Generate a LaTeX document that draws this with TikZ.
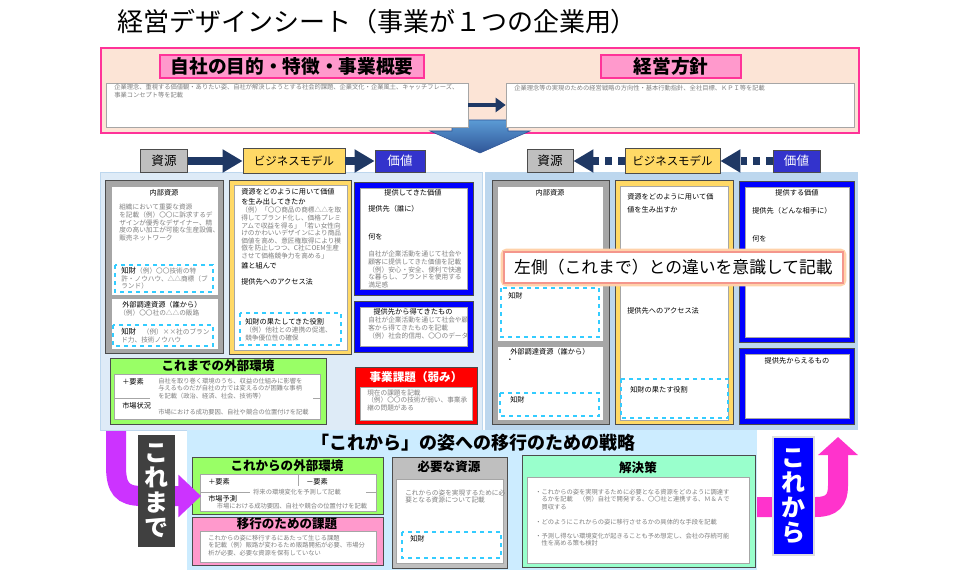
\documentclass[tikz,border=0pt]{standalone}
\usepackage{fontspec}
\setmainfont{Noto Sans CJK JP}
\usetikzlibrary{arrows.meta, positioning, calc}
\definecolor{Peach}{RGB}{252,228,214}
\definecolor{MagLine}{RGB}{255,51,153}
\definecolor{HeadPink}{RGB}{255,153,204}
\definecolor{Navy}{RGB}{31,56,100}
\definecolor{TagGray}{RGB}{191,191,191}
\definecolor{TagYellow}{RGB}{255,217,102}
\definecolor{TagBlue}{RGB}{51,51,204}
\definecolor{PanelL}{RGB}{222,235,247}
\definecolor{PanelR}{RGB}{189,215,238}
\definecolor{FrameGray}{RGB}{166,166,166}
\definecolor{ValBlue}{RGB}{0,0,255}
\definecolor{IPCyan}{RGB}{51,204,255}
\definecolor{EnvGreen}{RGB}{153,255,102}
\definecolor{IssueRed}{RGB}{255,0,0}
\definecolor{NextPanel}{RGB}{204,236,255}
\definecolor{SolveAqua}{RGB}{153,255,204}
\definecolor{PastPurple}{RGB}{204,51,255}
\definecolor{FutureMagenta}{RGB}{255,51,204}
\definecolor{PastDark}{RGB}{64,64,64}
\definecolor{MemoGray}{RGB}{128,128,128}
\definecolor{ArrowTop}{RGB}{91,155,213}
\definecolor{ArrowBot}{RGB}{47,85,151}
\definecolor{Glow}{RGB}{255,210,170}
\definecolor{CalloutLine}{RGB}{244,150,140}

\begin{document}
\begin{tikzpicture}[x=0.75pt, y=-0.75pt,
    headbox/.style={draw=MagLine, fill=HeadPink, line width=1.2pt, inner sep=0pt,
                    font=\bfseries\fontsize{14}{14}\selectfont},
    whitebox/.style={draw=gray!70, fill=white, line width=0.5pt, inner sep=0pt},
    tagbox/.style={draw=gray!60!black, line width=0.6pt, inner sep=0pt,
                   font=\fontsize{9.4}{10}\selectfont},
    flowarrow/.style={draw=Navy, line width=6pt, -{Triangle[length=15pt, width=16.5pt]}},
    dotarrow/.style={flowarrow, dash pattern=on 5pt off 4.5pt},
    boxframe/.style={draw=gray!60!black, line width=0.6pt},
    innerbox/.style={draw=gray!70, fill=white, line width=0.5pt},
    ipbox/.style={draw=IPCyan, dashed, line width=0.8pt},
    lbl/.style={font=\fontsize{5.4}{7.5}\selectfont, inner sep=0pt, anchor=west},
    memo/.style={font=\fontsize{5}{5.7}\selectfont, text=MemoGray, inner sep=0pt,
                 anchor=north west, align=left},
    tinymemo/.style={memo, font=\fontsize{4.7}{5.7}\selectfont},
    boxhead/.style={font=\bfseries\fontsize{9.4}{10}\selectfont, inner sep=0pt},
    vlabel/.style={text=white, font=\bfseries\fontsize{18}{18.75}\selectfont,
                   align=center, inner sep=0pt},
    bigturn/.style={line width=15pt}]
\useasboundingbox (0,0) rectangle (960,570);
\fill[white] (0,0) rectangle (960,570);

% title
\node[font=\fontsize{19.5}{20}\selectfont, inner sep=0pt] (title) at (377,22)
  {経営デザインシート（事業が１つの企業用）};

% purpose and policy
\draw[draw=MagLine, fill=Peach, line width=1.5pt] (101,48) rectangle (859,133);
\shade[top color=ArrowTop, bottom color=ArrowBot, draw=ArrowBot]
  (452,120) -- (508,120) -- (508,131) -- (530,131) -- (480,153) -- (430,131) -- (452,131) -- cycle;
\node[headbox, minimum width=198pt, minimum height=17.25pt] (purposeHead) at (292,66.5)
  {自社の目的・特徴・事業概要};
\node[headbox, minimum width=105pt, minimum height=17.25pt] (policyHead) at (671,66.5)
  {経営方針};
\node[whitebox, minimum width=271.5pt, minimum height=33pt] (purposeBox) at (287,105) {};
\node[whitebox, minimum width=261pt, minimum height=33pt] (policyBox) at (680,105) {};
\node[tinymemo] (purposeMemo) at (114,84)
  {企業理念、重視する価値観・ありたい姿、自社が解決しようとする社会的課題、企業文化・企業風土、キャッチフレーズ、\\事業コンセプト等を記載};
\node[tinymemo] (policyMemo) at (514,85)
  {企業理念等の実現のための経営戦略の方向性・基本行動指針、全社目標、ＫＰＩ等を記載};
\draw[draw=Navy, line width=3pt, -{Triangle[length=7.5pt, width=10.5pt]}]
  (purposeBox.east) -- (policyBox.west);

% panels
\draw[draw=PanelR, fill=PanelL] (100,172) rectangle (482,430);
\fill[PanelR] (485,172) rectangle (858,430);

% resource -> business model -> value
\node[tagbox, fill=TagGray, minimum width=35.25pt, minimum height=17.25pt] (resL) at (164,161) {資源};
\node[tagbox, fill=TagYellow, minimum width=76.5pt, minimum height=18.75pt,
      font=\fontsize{8.6}{9}\selectfont] (bizL) at (294,161) {ビジネスモデル};
\node[tagbox, fill=TagBlue, text=white, minimum width=37.5pt, minimum height=16.5pt] (valL) at (400,161) {価値};
\draw[flowarrow] (resL.east) -- (bizL.west);
\draw[flowarrow] (bizL.east) -- (valL.west);

\node[tagbox, fill=TagGray, minimum width=34.5pt, minimum height=17.25pt] (resR) at (550,161) {資源};
\node[tagbox, fill=TagYellow, minimum width=71.25pt, minimum height=18.75pt,
      font=\fontsize{8.6}{9}\selectfont] (bizR) at (672.5,161) {ビジネスモデル};
\node[tagbox, fill=TagBlue, text=white, minimum width=35.25pt, minimum height=16.5pt] (valR) at (796.5,161) {価値};
\draw[dotarrow] (bizR.west) -- (resR.east);
\draw[dotarrow] (valR.west) -- (bizR.east);

% ---- so far (left) ----
\draw[boxframe, fill=FrameGray] (105,180) rectangle (223,353);
\draw[innerbox] (111,186) rectangle (218,295);
\node[lbl, anchor=center] (inResL) at (164,193) {内部資源};
\node[memo] (inResMemoL) at (119,204)
  {組織において重要な資源\\を記載（例）〇〇に訴求するデ\\ザインが優秀なデザイナー、精\\度の高い加工が可能な生産設備、\\販売ネットワーク};
\draw[ipbox] (115,265) rectangle (213,292);
\node[memo] (ipMemoL1) at (121,267)
  {{\color{black}\fontsize{5.6}{5.7}\selectfont 知財}（例）〇〇技術の特\\許・ノウハウ、△△商標（ブ\\ランド）};
\draw[innerbox] (111,298) rectangle (218,349);
\node[lbl] (exResL) at (122,305) {外部調達資源（誰から）};
\node[memo] (exResMemoL) at (119,310) {（例）〇〇社の△△の販路};
\draw[ipbox] (113,325) rectangle (213,346);
\node[memo] (ipMemoL2) at (121,328)
  {{\color{black}\fontsize{5.6}{5.7}\selectfont 知財}\quad（例）××社のブラン\\ド力、技術ノウハウ};

\draw[boxframe, fill=TagYellow] (229,180) rectangle (351,354);
\draw[innerbox] (234,185) rectangle (347,350);
\node[lbl, anchor=north west, align=left] (howL) at (241,188)
  {資源をどのように用いて価値\\を生み出してきたか};
\node[memo] (howMemoL) at (241,207)
  {（例）「〇〇商品の商標△△を取\\得してブランド化し、価格プレミ\\アムで収益を得る」「若い女性向\\けのかわいいデザインにより商品\\価値を高め、意匠権取得により模\\倣を防止しつつ、C社にOEM生産\\させて価格競争力を高める」};
\node[lbl] (whoL) at (241,266) {誰と組んで};
\node[lbl] (accessL) at (241,282) {提供先へのアクセス法};
\draw[ipbox] (240,313) rectangle (341,345);
\node[lbl] (ipRoleL) at (245,322) {知財の果たしてきた役割};
\node[memo] (ipRoleMemoL) at (245,327) {（例）他社との連携の促進、\\競争優位性の確保};

\draw[boxframe, fill=ValBlue] (354,182) rectangle (473,295);
\draw[innerbox] (360,188) rectangle (467,289);
\node[lbl, anchor=center] (valHeadL) at (413,193) {提供してきた価値};
\node[lbl] (toWhomL) at (368,209) {提供先（誰に）};
\node[lbl] (whatL) at (368,237) {何を};
\node[memo] (valMemoL) at (368,251)
  {自社が企業活動を通じて社会や\\顧客に提供してきた価値を記載\\（例）安心・安全、便利で快適\\な暮らし、ブランドを使用する\\満足感};
\draw[boxframe, fill=ValBlue] (354,301) rectangle (473,352);
\draw[innerbox] (360,307) rectangle (467,346);
\node[lbl, anchor=center] (gainHeadL) at (413,312) {提供先から得てきたもの};
\node[memo] (gainMemoL) at (368,317)
  {自社が企業活動を通じて社会や顧\\客から得てきたものを記載\\（例）社会的信用、〇〇のデータ};

\draw[boxframe, fill=EnvGreen] (110,358) rectangle (326,424);
\node[boxhead] (envHeadL) at (218,366) {これまでの外部環境};
\draw[innerbox] (114,374) rectangle (320,419);
\draw[gray!70] (114,398) -- (150,398) (313,398) -- (320,398);
\node[lbl] (plusL) at (122,382) {＋要素};
\node[tinymemo] (plusMemoL) at (158,377.5)
  {自社を取り巻く環境のうち、収益の仕組みに影響を\\与えるものだが自社の力では変えるのが困難な事柄\\を記載（政治、経済、社会、技術等）};
\node[lbl] (marketL) at (122,406) {市場状況};
\node[tinymemo, anchor=west] (marketMemoL) at (158,412)
  {市場における成功要因、自社や競合の位置付けを記載};

\draw[boxframe, fill=IssueRed] (355,367) rectangle (477,424);
\node[boxhead, text=white, font=\bfseries\fontsize{8.7}{9}\selectfont] (issueHead) at (416,377) {事業課題（弱み）};
\draw[innerbox] (360,387) rectangle (472,420);
\node[memo] (issueMemo) at (367,389.5)
  {現在の課題を記載\\（例）〇〇の技術が弱い、事業承\\継の問題がある};

% ---- from now on (right) ----
\draw[boxframe, fill=FrameGray] (492,180) rectangle (609,424);
\draw[innerbox] (497,186) rectangle (603,341);
\node[lbl, anchor=center] (inResR) at (550,193) {内部資源};
\draw[ipbox] (501,288) rectangle (599,337);
\node[lbl] (ipR1) at (508,296) {知財};
\draw[innerbox] (497,346) rectangle (603,420);
\node[lbl] (exResR) at (510,352) {外部調達資源（誰から）};
\node[lbl] (dotR) at (506,361) {・};
\draw[ipbox] (500,393) rectangle (599,416);
\node[lbl] (ipR2) at (510,400) {知財};

\draw[boxframe, fill=TagYellow] (615,180) rectangle (733,424);
\draw[innerbox] (620,186) rectangle (728,420);
\node[lbl, anchor=north west, align=left, font=\fontsize{5.4}{9.75}\selectfont] (howR) at (627,193)
  {資源をどのように用いて価\\値を生み出すか};
\node[lbl] (accessR) at (627,311) {提供先へのアクセス法};
\draw[ipbox] (621,379) rectangle (728,418);
\node[lbl] (ipRoleR) at (630,390) {知財の果たす役割};

\draw[boxframe, fill=ValBlue] (739,181) rectangle (854,342);
\draw[innerbox] (745,187) rectangle (849,337);
\node[lbl, anchor=center] (valHeadR) at (797,193) {提供する価値};
\node[lbl] (toWhomR) at (752,211) {提供先（どんな相手に）};
\node[lbl] (whatR) at (752,239) {何を};
\draw[boxframe, fill=ValBlue] (739,348) rectangle (854,424);
\draw[innerbox] (745,354) rectangle (849,418);
\node[lbl, anchor=center] (gainHeadR) at (797,361) {提供先からえるもの};

% callout
\draw[Glow, line width=5pt, rounded corners=2pt] (504,252) rectangle (843,283);
\node[draw=CalloutLine, line width=1.2pt, fill=white, inner sep=0pt,
      minimum width=254.25pt, minimum height=23.25pt,
      font=\fontsize{12.6}{13}\selectfont] (diffNote) at (673.5,267.5)
  {左側（これまで）との違いを意識して記載};

% ---- strategy ----
\fill[NextPanel] (187,430) rectangle (757,572);
\node[font=\bfseries\fontsize{13.5}{14}\selectfont, inner sep=0pt] (strategyHead) at (473,443)
  {「これから」の姿への移行のための戦略};

\draw[boxframe, fill=EnvGreen] (192,457) rectangle (383,514);
\node[boxhead] (envHeadR) at (287,466) {これからの外部環境};
\draw[innerbox] (200,474) rectangle (376,511);
\draw[gray!70] (298,474) -- (298,486) (200,492) -- (250,492) (366,492) -- (376,492);
\node[lbl] (plusR) at (208,482) {＋要素};
\node[lbl] (minusR) at (306,482) {－要素};
\node[tinymemo, anchor=center] (futureMemo) at (297,492) {将来の環境変化を予測して記載};
\node[lbl] (forecast) at (208,499) {市場予測};
\node[tinymemo, anchor=center] (forecastMemo) at (292,506)
  {市場における成功要因、自社や競合の位置付けを記載};

\draw[boxframe, fill=HeadPink] (192,517) rectangle (383,565);
\node[boxhead] (shiftHead) at (287,524) {移行のための課題};
\draw[innerbox] (200,531) rectangle (376,562);
\node[tinymemo] (shiftMemo) at (208,534.5)
  {これからの姿に移行するにあたって生じる課題\\を記載（例）販路が変わるため販路開拓が必要、市場分\\析が必要、必要な資源を保有していない};

\draw[boxframe, fill=TagGray] (392,457) rectangle (507,568);
\node[boxhead] (needHead) at (449,467) {必要な資源};
\draw[innerbox] (396,479) rectangle (503,563);
\node[memo] (needMemo) at (405,489.5)
  {これからの姿を実現するために必\\要となる資源について記載};
\draw[ipbox] (402,532) rectangle (501,558);
\node[lbl] (ipNeed) at (410,539) {知財};

\draw[boxframe, fill=SolveAqua] (522,455) rectangle (755,567);
\node[boxhead] (solveHead) at (638,468) {解決策};
\draw[innerbox] (527,477) rectangle (749,563);
\node[tinymemo] (solveMemo1) at (535,488.5)
  {・これからの姿を実現するために必要となる資源をどのように調達す\\　るかを記載　（例）自社で開発する、〇〇社と連携する、Ｍ＆Ａで\\　買収する};
\node[tinymemo] (solveMemo2) at (535,518.5)
  {・どのようにこれからの姿に移行させるかの具体的な手段を記載};
\node[tinymemo] (solveMemo3) at (535,532.5)
  {・予測し得ない環境変化が起きることも予め想定し、会社の存続可能\\　性を高める策も検討};

% turning arrows
\coordinate (pastTop) at (116,431);
\coordinate (pastTip) at (201,496);
\draw[bigturn, PastPurple, -{Triangle[length=17pt, width=31pt]}]
  (pastTop) -- (116,466) .. controls (116,488) and (122,496) .. (142,496) -- (pastTip);
\node[vlabel, fill=PastDark, minimum width=27.75pt, minimum height=84pt] (pastTag) at (156.5,491)
  {こ\\れ\\ま\\で};

\coordinate (futureFoot) at (757,507);
\coordinate (futureTip) at (838,437);
\draw[bigturn, FutureMagenta, -{Triangle[length=13.5pt, width=29pt]}]
  (futureFoot) -- (816,507) .. controls (832,507) and (838,500) .. (838,486) -- (futureTip);
\node[vlabel, fill=ValBlue, draw=gray!25, line width=1.5pt,
      minimum width=30.75pt, minimum height=88.5pt] (futureTag) at (793.5,496)
  {こ\\れ\\か\\ら};
\end{tikzpicture}
\end{document}
